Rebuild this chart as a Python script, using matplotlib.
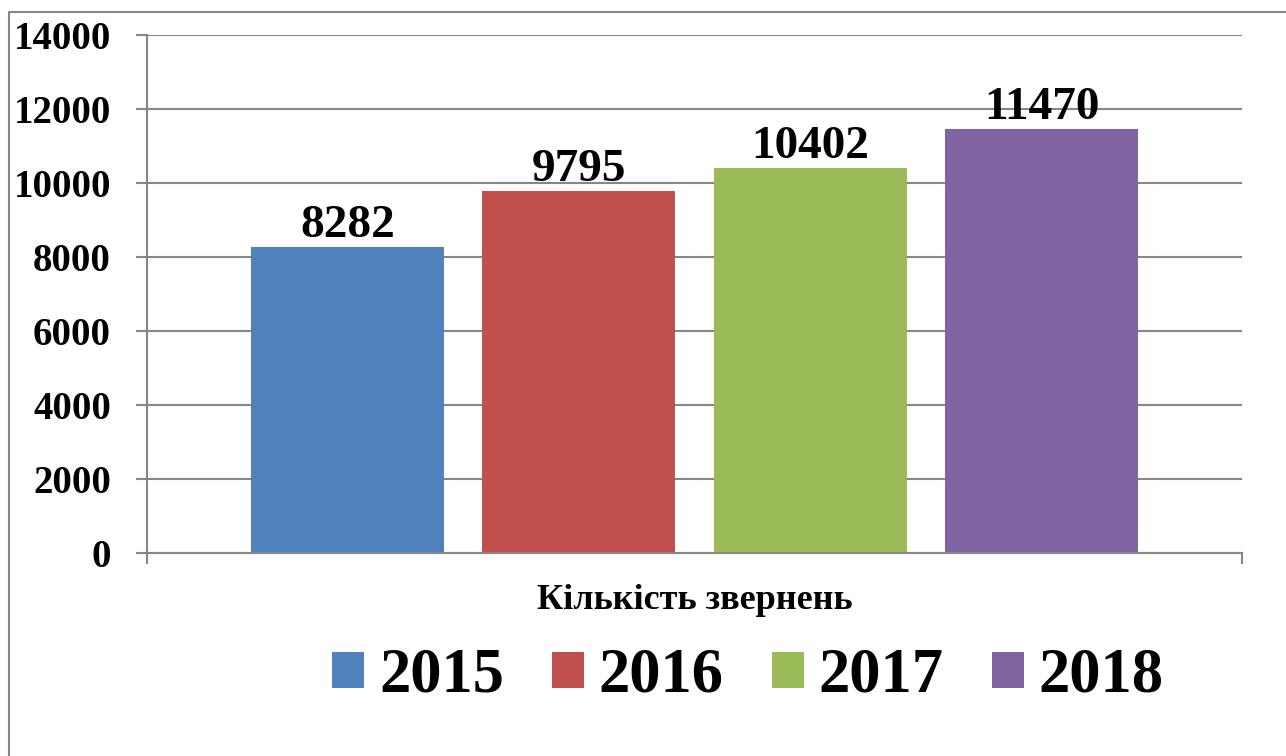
import matplotlib
matplotlib.use('Agg')
import matplotlib.pyplot as plt
from matplotlib.lines import Line2D

# дані
years = ['2015', '2016', '2017', '2018']
values = [8282, 9795, 10402, 11470]
category = 'Кількість звернень'
colors = ['#4F81BD', '#C0504D', '#9BBB59', '#8064A2']

plt.rcParams['font.family'] = ['Liberation Serif', 'DejaVu Serif']
plt.rcParams['font.weight'] = 'bold'

W, H = 1286, 756
fig = plt.figure(figsize=(W / 100, H / 100), dpi=100)
ax = fig.add_axes([147 / W, 1 - 553 / H, (1242 - 147) / W, (553 - 35) / H])

grid_c = '#868686'
bar_w = 0.1763
step = 0.2113
bars = []
for i, (yr, v) in enumerate(zip(years, values)):
    x = (i - 1.5) * step
    b = ax.bar(x, v, width=bar_w, color=colors[i], label=yr, zorder=3)
    bars.append(b)
    ax.annotate(str(v), (x, v), xytext=(0, 7), textcoords='offset points',
                ha='center', va='baseline', fontsize=34, fontweight='bold')

ax.set_xlim(-0.5, 0.5)
ax.set_ylim(0, 14000)
ax.set_yticks(range(0, 14001, 2000))
ax.tick_params(axis='y', labelsize=28, length=8, width=1.5, color=grid_c,
               direction='out', pad=18)
for lab in ax.get_yticklabels():
    lab.set_fontweight('bold')

ax.set_xticks([-0.5, 0.5])
ax.set_xticklabels(['', ''])
ax.tick_params(axis='x', which='major', length=8, width=1.5, color=grid_c,
               direction='out')
ax.set_xticks([0], labels=[category], minor=True)
ax.tick_params(axis='x', which='minor', length=0, labelsize=26, pad=22)
for lab in ax.get_xticklabels(minor=True):
    lab.set_fontweight('bold')

ax.yaxis.grid(True, color=grid_c, linewidth=1.5, zorder=0)
for s in ['top', 'right']:
    ax.spines[s].set_visible(False)
for s in ['left', 'bottom']:
    ax.spines[s].set_color(grid_c)
    ax.spines[s].set_linewidth(1.5)
    ax.spines[s].set_zorder(4)

leg = fig.legend(loc='center', bbox_to_anchor=(748 / W, 1 - 677 / H),
                 ncol=4, frameon=False, prop={'size': 45, 'weight': 'bold'},
                 handlelength=0.51, handleheight=0.51, handletextpad=0.24,
                 columnspacing=0.77)

# рамка
fig.add_artist(Line2D([9 / W, 9 / W, 1], [0, 1 - 12 / H, 1 - 12 / H],
                      transform=fig.transFigure, color=grid_c, linewidth=1.5))

fig.savefig('out.png', dpi=100)
